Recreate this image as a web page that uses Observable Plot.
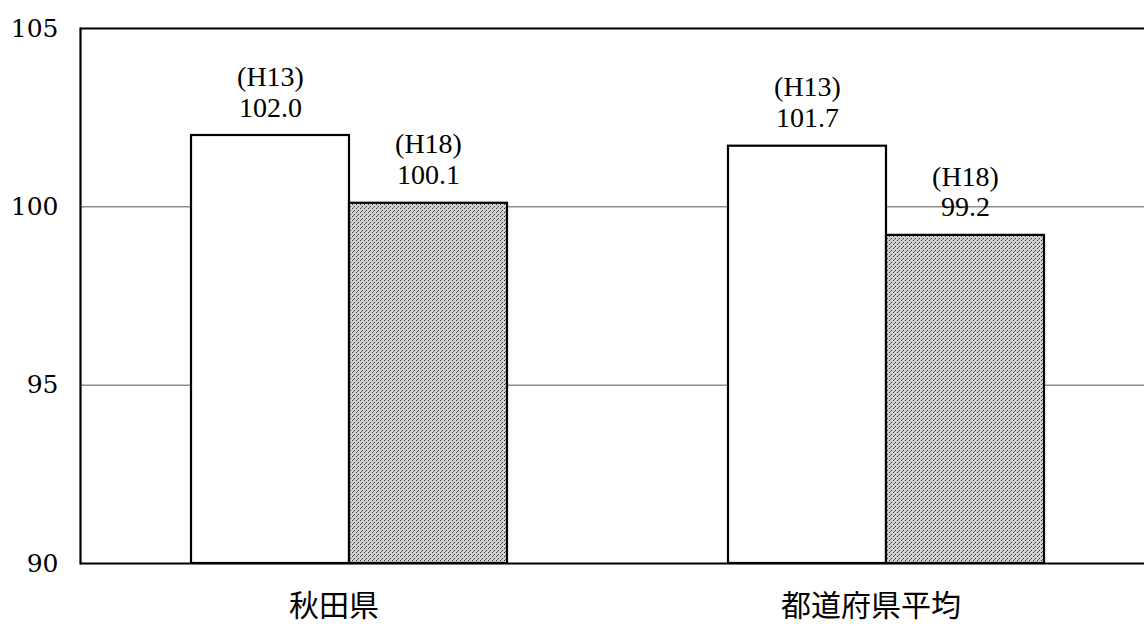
<!DOCTYPE html>
<html><head><meta charset="utf-8">
<script src="https://cdn.jsdelivr.net/npm/d3@7"></script>
<script src="https://cdn.jsdelivr.net/npm/@observablehq/plot@0.6"></script>
<style>body{margin:0;background:#fff}</style>
</head><body><div id="chart"></div>
<script>
const categories = ["秋田県", "都道府県平均"];
const years = ["H13", "H18"];
const akitaValues = [102.0, 100.1];
const nationalValues = [101.7, 99.2];
const yTicks = [90, 95, 100, 105];
const gridTicks = [95, 100];
const yDomain = [90, 105];

const data = [];
[akitaValues, nationalValues].forEach((vals, i) =>
  vals.forEach((v, j) => data.push({category: categories[i], year: years[j], value: v})));

const svg = Plot.plot({
  width: 1144, height: 626,
  marginTop: 28, marginBottom: 63, marginLeft: 80, marginRight: 0,
  style: {fontFamily: "'Liberation Serif', serif", fontSize: "27px", color: "#000", background: "#fff"},
  fx: {domain: categories, range: [80, 1154], padding: 0, label: null, axis: null},
  x: {domain: years, paddingInner: 0, paddingOuter: 0.694, axis: null},
  y: {domain: yDomain, axis: null},
  marks: [
    Plot.ruleY(gridTicks, {stroke: "#555", strokeWidth: 1}),
    Plot.barY(data, {filter: d => d.year === years[0], fx: "category", x: "year", y1: yDomain[0], y2: "value", fill: "#fff", stroke: "#000", strokeWidth: 2.2}),
    Plot.barY(data, {filter: d => d.year === years[1], fx: "category", x: "year", y1: yDomain[0], y2: "value", fill: "url(#stipple)", stroke: "#000", strokeWidth: 2.2}),
    Plot.text(data, {fx: "category", x: "year", y: "value", text: d => `(${d.year})\n${d.value.toFixed(1)}`, lineAnchor: "bottom", dy: -19, fontSize: 28, lineHeight: 1.1, fill: "#000"}),
    Plot.ruleY(yDomain, {stroke: "#000", strokeWidth: 2.2}),
    Plot.frame({anchor: "left", facetAnchor: "left", stroke: "#000", strokeWidth: 2.2}),
    Plot.axisY({ticks: yTicks, tickSize: 0, tickPadding: 22, label: null, fontSize: 25, fontFamily: "'DejaVu Serif', serif", facetAnchor: "left"}),
    Plot.axisFx({anchor: "bottom", tickSize: 0, tickPadding: 31, dx: -15, label: null, fontSize: 30, fontFamily: "'Noto Sans CJK JP', sans-serif"})
  ]
});

const defs = d3.select(svg).insert("defs", ":first-child");
const pat = defs.append("pattern").attr("id", "stipple").attr("patternUnits", "userSpaceOnUse")
  .attr("width", 4).attr("height", 4);
pat.append("rect").attr("width", 4).attr("height", 4).attr("fill", "#d2d2d2");
pat.append("rect").attr("x", 0).attr("y", 0).attr("width", 1).attr("height", 1).attr("fill", "#333");
pat.append("rect").attr("x", 2).attr("y", 2).attr("width", 1).attr("height", 1).attr("fill", "#333");
pat.append("rect").attr("x", 1).attr("y", 3).attr("width", 1).attr("height", 1).attr("fill", "#777");
document.getElementById("chart").appendChild(svg);
</script>
</body></html>
